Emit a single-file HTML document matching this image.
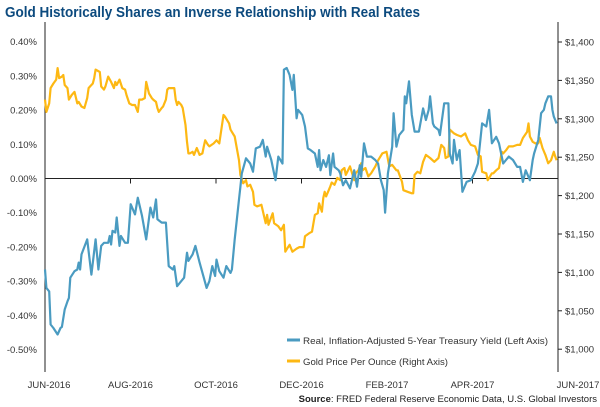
<!DOCTYPE html>
<html><head><meta charset="utf-8"><style>
body{margin:0;background:#fff;}
svg{display:block;font-family:"Liberation Sans",sans-serif;}
</style></head><body>
<svg id="chart" width="600" height="407">
<text x="5" y="17" font-size="14.5" font-weight="bold" fill="#0c4a7e" textLength="415" lengthAdjust="spacingAndGlyphs">Gold Historically Shares an Inverse Relationship with Real Rates</text>
<g id="axes"></g>
<g id="series"></g>
<g>
<line x1="287" y1="340" x2="300" y2="340" stroke="#4a9bc1" stroke-width="3"/>
<text x="303" y="344" font-size="9.5" fill="#333" textLength="245" lengthAdjust="spacingAndGlyphs">Real, Inflation-Adjusted 5-Year Treasury Yield (Left Axis)</text>
<line x1="287" y1="361" x2="300" y2="361" stroke="#fdb813" stroke-width="3"/>
<text x="303" y="365" font-size="9.5" fill="#333" textLength="145" lengthAdjust="spacingAndGlyphs">Gold Price Per Ounce (Right Axis)</text>
</g>
<text x="597" y="402" font-size="9.5" fill="#222" text-anchor="end"><tspan font-weight="bold">Source</tspan>: FRED Federal Reserve Economic Data, U.S. Global Investors</text>
</svg>
<script>
const monthLabels=["JUN-2016","AUG-2016","OCT-2016","DEC-2016","FEB-2017","APR-2017","JUN-2017"];
const leftTicks=[0.4,0.3,0.2,0.1,0,-0.1,-0.2,-0.3,-0.4,-0.5];
const leftTickLabels=["0.40%","0.30%","0.20%","0.10%","0.00%","-0.10%","-0.20%","-0.30%","-0.40%","-0.50%"];
const rightTicks=[1400,1350,1300,1250,1200,1150,1100,1050,1000];
const rightTickLabels=["$1,400","$1,350","$1,300","$1,250","$1,200","$1,150","$1,100","$1,050","$1,000"];
const yieldDays=[0,1,3,4,6,9,11,12,14,16,17,18,21,23,24,25,26,30,33,36,38,40,42,45,46,47,48,50,51,53,54,57,59,61,64,66,69,72,75,77,79,80,83,86,88,91,92,94,97,99,101,102,105,107,110,113,115,117,119,121,122,124,127,129,132,133,135,138,139,140,143,146,148,150,153,155,157,158,161,162,164,166,169,170,172,174,176,177,179,180,183,185,187,189,192,194,195,196,198,200,202,203,205,206,209,210,212,214,217,220,222,224,225,227,229,232,235,237,239,241,242,244,247,248,250,252,255,256,257,259,261,263,266,269,271,273,274,276,277,280,281,284,287,288,290,291,293,295,297,300,303,306,308,311,314,316,318,321,323,326,328,330,333,336,338,340,342,345,347,348,351,353,355,356,358,360,361,362,364];
const yieldValues=[-.266,-.32,-.33,-.427,-.437,-.456,-.437,-.434,-.383,-.359,-.349,-.29,-.271,-.266,-.246,-.266,-.222,-.178,-.281,-.178,-.266,-.197,-.188,-.188,-.168,-.193,-.153,-.158,-.114,-.197,-.168,-.188,-.188,-.075,-.105,-.056,-.109,-.178,-.085,-.114,-.061,-.119,-.129,-.129,-.256,-.266,-.256,-.315,-.3,-.29,-.217,-.241,-.222,-.197,-.246,-.29,-.32,-.3,-.256,-.285,-.237,-.271,-.29,-.256,-.276,-.266,-.178,-.061,-.024,.015,.059,.044,.02,.088,.093,.113,.064,.093,.054,.034,-.005,.064,.044,.318,.323,.303,.259,.303,.176,.201,.186,.152,.088,.083,.073,.034,.083,.024,.054,.034,.068,.01,.073,.034,.024,.015,-.02,-.005,-.029,.024,-.024,.039,.005,.103,.064,.064,.054,.044,-.005,-.034,-.10,.015,.093,.191,.093,.127,.142,.24,.22,.284,.186,.137,.137,.205,.171,.201,.24,.161,.152,.142,.127,.22,.22,.073,.044,.113,.054,.083,-.039,-.01,-.005,.02,.044,.161,.152,.201,.103,.122,.103,.044,.054,.064,.054,.034,.034,-.01,.024,-.005,.054,.073,.113,.191,.201,.22,.24,.24,.201,.181,.161];
const goldDays=[0,1,3,4,6,8,9,10,12,13,14,16,17,19,21,23,24,26,28,30,31,32,34,35,36,39,40,42,43,45,47,49,50,51,53,55,57,58,60,62,64,66,67,69,71,72,74,76,77,79,80,81,83,84,86,87,88,90,92,93,94,95,97,98,100,101,102,103,105,106,108,110,112,113,114,116,117,120,122,124,127,128,131,132,133,135,138,139,141,143,144,146,148,149,151,154,157,158,159,162,163,166,168,170,171,173,174,176,179,181,184,185,188,190,192,194,195,197,198,199,200,203,204,206,208,210,211,213,214,217,220,221,223,225,226,228,230,232,235,237,240,243,245,247,250,251,254,255,258,261,262,263,265,267,269,271,274,277,280,282,284,285,287,288,291,293,296,299,301,303,306,308,310,311,314,315,318,319,321,323,325,326,328,330,333,336,338,340,343,344,345,347,349,351,352,354,356,358,360,362,363,364];
const goldValues=[1325,1309,1320,1340,1346,1351,1366,1353,1355,1357,1344,1340,1325,1331,1335,1320,1322,1316,1314,1327,1340,1342,1346,1353,1364,1361,1342,1338,1342,1355,1348,1340,1348,1344,1351,1340,1338,1331,1320,1318,1318,1309,1325,1325,1327,1348,1333,1327,1325,1322,1314,1309,1314,1316,1325,1338,1340,1340,1340,1325,1318,1322,1318,1314,1292,1270,1255,1255,1257,1253,1262,1253,1255,1264,1272,1266,1264,1268,1272,1268,1305,1303,1294,1286,1283,1277,1246,1227,1216,1220,1212,1214,1205,1188,1186,1188,1164,1175,1162,1177,1164,1160,1155,1162,1127,1133,1136,1127,1131,1133,1133,1147,1151,1153,1175,1177,1190,1179,1197,1205,1199,1212,1217,1214,1223,1220,1233,1236,1227,1238,1220,1229,1233,1242,1233,1236,1225,1229,1238,1246,1255,1257,1238,1240,1233,1233,1218,1207,1205,1203,1203,1227,1231,1229,1244,1253,1249,1244,1249,1266,1262,1249,1251,1286,1281,1279,1277,1281,1272,1266,1264,1253,1251,1231,1229,1220,1229,1229,1233,1236,1257,1255,1259,1264,1264,1266,1266,1275,1283,1294,1277,1270,1268,1268,1275,1262,1253,1242,1246,1257,1251,1246];

const NS="http://www.w3.org/2000/svg";
const X0=45,X1=558,DAYS=365;
const xScale=d=>X0+d/DAYS*(X1-X0);
const yLeft=v=>178.5-v*342;
const yRight=p=>42+(1400-p)*0.768;
function mk(tag,attrs,parent){const e=document.createElementNS(NS,tag);for(const k in attrs)e.setAttribute(k,attrs[k]);parent.appendChild(e);return e;}
const axes=document.getElementById('axes'),series=document.getElementById('series');

let e=mk('line',{x1:X0,y1:22,x2:X0,y2:372,stroke:'#222','stroke-width':1},axes);


e=mk('line',{x1:X1,y1:22,x2:X1,y2:372,stroke:'#222','stroke-width':1},axes);


e=mk('line',{x1:X0,y1:yLeft(0),x2:X1,y2:yLeft(0),stroke:'#222','stroke-width':1},axes);



leftTicks.forEach((v,i)=>{
  const t=mk('text',{x:37,y:yLeft(v)+3.5,'font-size':9.5,fill:'#333','text-anchor':'end'},axes);
  t.textContent=leftTickLabels[i];
  
  
});
rightTicks.forEach((p,i)=>{
  const l=mk('line',{x1:X1,y1:yRight(p),x2:X1+4,y2:yRight(p),stroke:'#222'},axes);
  
  
  const t=mk('text',{x:565,y:yRight(p)+3.5,'font-size':9.5,fill:'#333'},axes);
  t.textContent=rightTickLabels[i];
  
  
});
monthLabels.forEach((m,i)=>{
  const x=X0+i*(X1-X0)/6;
  if(i>0&&i<6){const l=mk('line',{x1:x,y1:yLeft(0),x2:x,y2:yLeft(0)+5,stroke:'#222'},axes);
    
    }
  const t=mk('text',{x:x+(i==0?4:i==6?20:0),y:388,'font-size':9.5,fill:'#333','text-anchor':'middle'},axes);
  t.textContent=m;
  
  
});

const pathOf=(ds,vs,ys)=>ds.map((d,i)=>(i?'L':'M')+xScale(d).toFixed(1)+','+ys(vs[i]).toFixed(1)).join('');
const blue=mk('path',{d:pathOf(yieldDays,yieldValues,yLeft),fill:'none',stroke:'#4a9bc1','stroke-width':2.2,'stroke-linejoin':'round'},series);


const gold=mk('path',{d:pathOf(goldDays,goldValues,yRight),fill:'none',stroke:'#fdb813','stroke-width':2.2,'stroke-linejoin':'round'},series);


series.insertBefore(blue,null);
</script>
</body></html>
